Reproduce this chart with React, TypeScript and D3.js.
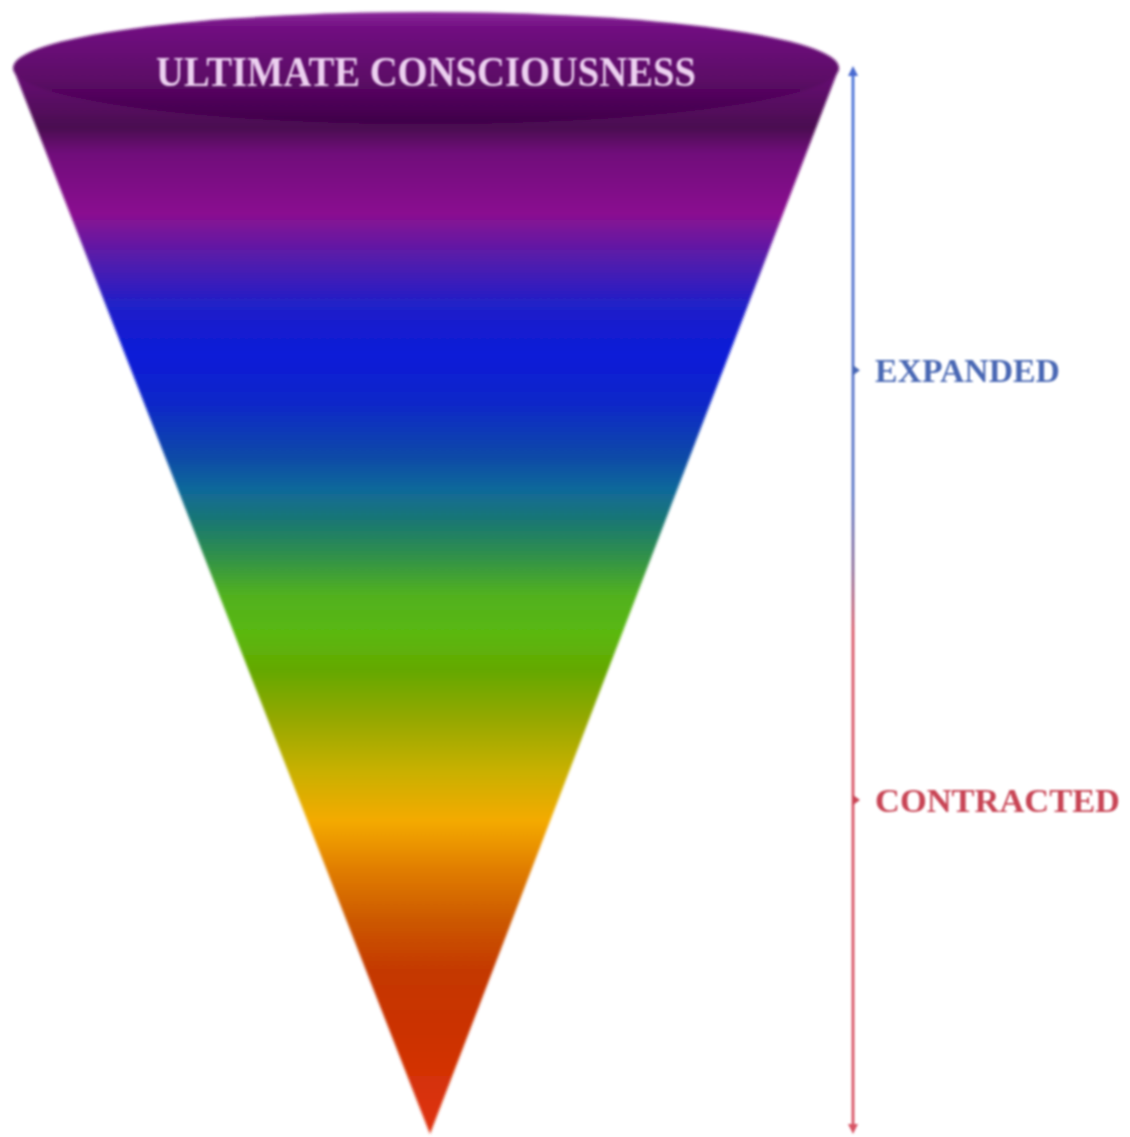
import React from "react";
import * as d3 from "d3";

const title = "ULTIMATE CONSCIOUSNESS";
const axisLabels = ["EXPANDED", "CONTRACTED"];
const axisLevels = [0.284, 0.688]; // fraction of axis height
const axisColors = ["#4a68b4", "#c84455"];

// Spectrum stops: fraction down the cone (0 = rim, 1 = apex) and colour
const spectrumLevels = [0, 0.056, 0.08, 0.137, 0.174, 0.222, 0.269, 0.316, 0.363, 0.395, 0.427, 0.458, 0.493, 0.53, 0.565, 0.612, 0.659, 0.706, 0.753, 0.8, 0.847, 0.909, 1];
const spectrumColors = ["#6a0a78", "#4a0a50", "#700a7a", "#8a1090", "#5a1aa8", "#2020c8", "#0a1ad8", "#0a28c8", "#0a48a8", "#10689a", "#1a7870", "#30904a", "#50b020", "#5ab810", "#64a800", "#96a800", "#c8b000", "#f4aa00", "#e07c00", "#cc5800", "#c43800", "#cc3000", "#e03010"];

const W = 1130;
const H = 1137;

export default function App() {
  const cx = 426;
  const rimY = 68;
  const rx = 413;
  const ry = 56;
  const apexX = 430;
  const apexY = 1134;

  const coneY = d3.scaleLinear().domain([0, 1]).range([rimY, apexY]);
  const axisX = 853;
  const axisY = d3.scaleLinear().domain([0, 1]).range([68, 1132]);

  const conePath = d3.path();
  conePath.moveTo(cx - rx, rimY);
  conePath.lineTo(apexX, apexY);
  conePath.lineTo(cx + rx, rimY);
  conePath.closePath();

  return (
    <svg width={W} height={H} style={{ position: "absolute", left: 0, top: 0, background: "#fff" }}>
      <defs>
        <linearGradient id="spec" gradientUnits="userSpaceOnUse" x1={0} y1={coneY(0)} x2={0} y2={coneY(1)}>
          {spectrumLevels.map((l, i) => (
            <stop key={i} offset={l} stopColor={spectrumColors[i]} />
          ))}
        </linearGradient>
        <linearGradient id="rim" x1="0" y1="0" x2="0" y2="1">
          <stop offset="0" stopColor="#8a2a9a" />
          <stop offset="0.15" stopColor="#700c80" />
          <stop offset="0.6" stopColor="#5c0866" />
          <stop offset="1" stopColor="#3e0048" />
        </linearGradient>
        <linearGradient id="axisGrad" gradientUnits="userSpaceOnUse" x1={0} y1={axisY(0)} x2={0} y2={axisY(1)}>
          <stop offset="0" stopColor="#4a72d8" />
          <stop offset="0.4" stopColor="#5a74c4" />
          <stop offset="0.47" stopColor="#8a6a98" />
          <stop offset="0.53" stopColor="#d85565" />
          <stop offset="1" stopColor="#d85565" />
        </linearGradient>
        <filter id="soft" x="-5%" y="-5%" width="110%" height="110%">
          <feGaussianBlur stdDeviation="1.6" />
        </filter>
        <filter id="softer" x="-5%" y="-20%" width="110%" height="140%">
          <feGaussianBlur stdDeviation="0.9" />
        </filter>
      </defs>

      <g filter="url(#soft)">
        <path d={conePath.toString()} fill="url(#spec)" />
        <ellipse cx={cx} cy={rimY} rx={rx} ry={ry} fill="url(#rim)" />
      </g>

      <text
        x={cx}
        y={rimY + 18}
        textAnchor="middle"
        fontFamily="'Liberation Serif', 'DejaVu Serif', serif"
        fontSize={42}
        fontWeight="bold"
        textLength={540}
        lengthAdjust="spacingAndGlyphs"
        fill="#ecd0f0"
        filter="url(#softer)"
      >
        {title}
      </text>

      <g filter="url(#softer)">
        <line x1={axisX} x2={axisX} y1={axisY(0) + 4} y2={axisY(1) - 4} stroke="url(#axisGrad)" strokeWidth={2.8} />
        <path d={`M${axisX},${axisY(0) - 2} L${axisX - 5},${axisY(0) + 8} L${axisX + 5},${axisY(0) + 8} Z`} fill="#4a6ad0" />
        <path d={`M${axisX},${axisY(1) + 2} L${axisX - 5},${axisY(1) - 8} L${axisX + 5},${axisY(1) - 8} Z`} fill="#d85565" />
        {axisLabels.map((lab, i) => {
          const y = axisY(axisLevels[i]);
          return (
            <g key={lab}>
              <path d={`M${axisX},${y - 5} L${axisX + 7},${y} L${axisX},${y + 5} Z`} fill={axisColors[i]} />
              <text
                x={axisX + 22}
                y={y + 12}
                fontFamily="'Liberation Serif', 'DejaVu Serif', serif"
                fontSize={33}
                fontWeight="bold"
                textLength={i === 0 ? 185 : 245}
                lengthAdjust="spacingAndGlyphs"
                fill={axisColors[i]}
              >
                {lab}
              </text>
            </g>
          );
        })}
      </g>
    </svg>
  );
}
